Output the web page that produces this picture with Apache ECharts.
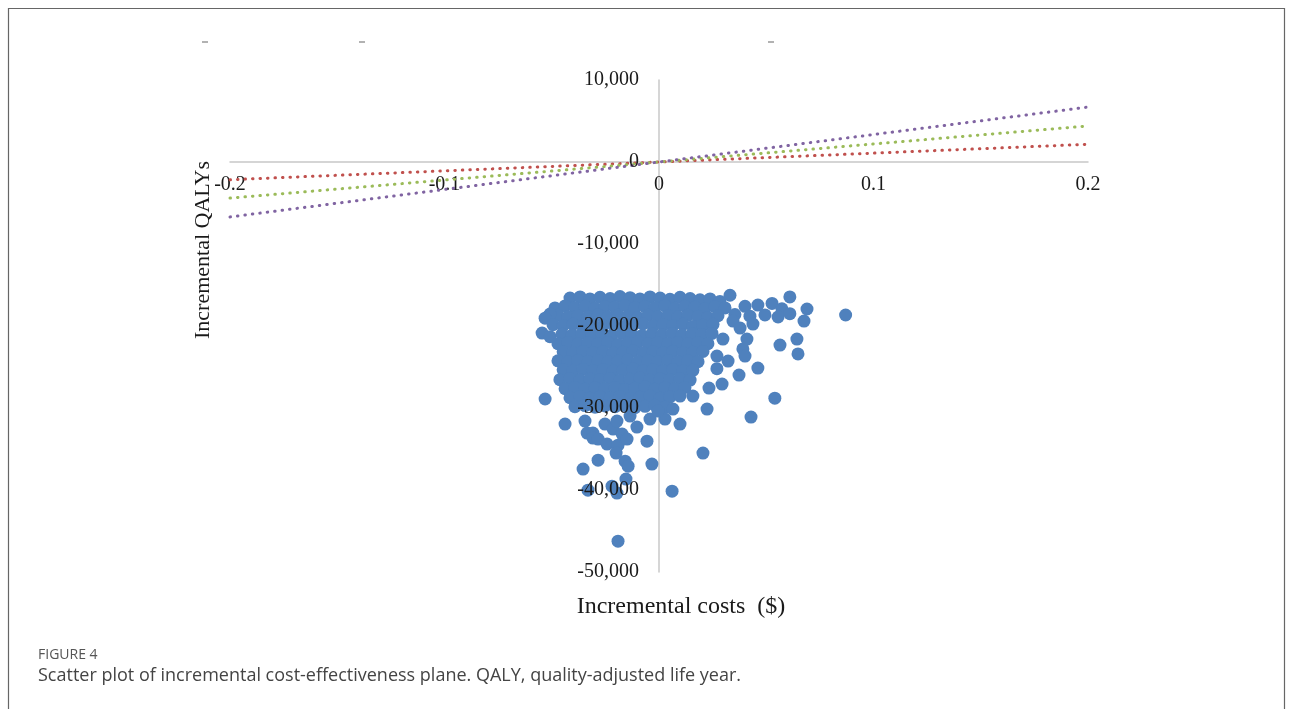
<!DOCTYPE html>
<html>
<head>
<meta charset="utf-8">
<script src="https://cdn.jsdelivr.net/npm/echarts@6/dist/echarts.min.js"></script>
<style>
  html, body { margin: 0; padding: 0; background: #fff; }
  #chart { width: 1290px; height: 709px; }
</style>
</head>
<body>
<div id="chart"></div>
<script>
// axis ranges
const costRange = [-0.2, 0.2];
const qalyRange = [-50000, 10000];

// willingness-to-pay reference lines (end points)
const wtpLow = [[-0.2, -2160], [0.2, 2160]];
const wtpMid = [[-0.2, -4400], [0.2, 4400]];
const wtpHigh = [[-0.2, -6700], [0.2, 6700]];

// simulated (incremental cost, incremental QALY) pairs, upper dense cloud
const cloudTop = [
  [-0.0415,-16600],[-0.0368,-16450],[-0.0322,-16700],[-0.0275,-16500],[-0.0228,-16650],[-0.0182,-16400],
  [-0.0135,-16550],[-0.0089,-16700],[-0.0042,-16450],[0.0005,-16600],[0.0051,-16750],[0.0098,-16500],
  [0.0145,-16650],[0.0191,-16800],[0.0238,-16700],[0.0284,-17000],[0.0331,-16250],[0.0610,-16450],
  [-0.0485,-17800],[-0.0438,-17550],[-0.0392,-17750],[-0.0345,-17600],[-0.0298,-17850],[-0.0252,-17650],
  [-0.0205,-17700],[-0.0159,-17500],[-0.0112,-17800],[-0.0065,-17650],[-0.0019,-17750],[0.0028,-17550],
  [0.0075,-17850],[0.0121,-17600],[0.0168,-17700],[0.0214,-17900],[0.0261,-17650],[0.0308,-17800],
  [0.0401,-17600],[0.0461,-17450],[0.0527,-17250],[0.0573,-17900],[0.0690,-17930],
  [-0.0517,-18850],[-0.0471,-18700],[-0.0424,-18900],[-0.0378,-18750],[-0.0331,-18850],[-0.0284,-18650],
  [-0.0238,-18900],[-0.0191,-18700],[-0.0145,-18800],[-0.0098,-18950],[-0.0051,-18700],[-0.0005,-18850],
  [0.0042,-18750],[0.0089,-18900],[0.0135,-18700],[0.0182,-18850],[0.0228,-18950],[0.0275,-18750],
  [0.0354,-18600],[0.0424,-18800],[0.0494,-18650],[0.0555,-18900],[0.0610,-18500],[0.0676,-19400],
  [-0.0508,-18540],[-0.0531,-19050],[0.0870,-18660],
  [-0.0494,-19850],[-0.0447,-19950],[-0.0401,-19800],[-0.0354,-20000],[-0.0308,-19850],[-0.0261,-19950],
  [-0.0214,-19800],[-0.0168,-20050],[-0.0121,-19900],[-0.0075,-19750],[-0.0028,-20000],[0.0019,-19850],
  [0.0065,-19950],[0.0112,-19800],[0.0158,-20050],[0.0205,-19900],[0.0252,-19800],[0.0345,-19400],
  [0.0438,-19760],[0.0378,-20250]
];

// middle of the cloud
const cloudMid = [
  [-0.0545,-20860],[-0.0508,-21300],[-0.0452,-21000],[-0.0405,-21100],[-0.0359,-20900],[-0.0312,-21050],
  [-0.0266,-20950],[-0.0219,-21100],[-0.0172,-20900],[-0.0126,-21000],[-0.0079,-21150],[-0.0033,-20950],
  [0.0014,-21050],[0.0061,-20900],[0.0107,-21100],[0.0154,-20950],[0.0200,-21050],[0.0247,-20900],
  [-0.0471,-22150],[-0.0424,-22000],[-0.0378,-22200],[-0.0331,-22050],[-0.0284,-22150],[-0.0238,-22000],
  [-0.0191,-22250],[-0.0145,-22100],[-0.0098,-21950],[-0.0051,-22200],[-0.0005,-22050],[0.0042,-22150],
  [0.0089,-22000],[0.0135,-22200],[0.0182,-22050],[0.0228,-22150],[0.0298,-21600],[0.0410,-21600],
  [0.0564,-22330],[0.0643,-21600],
  [-0.0447,-23150],[-0.0401,-23300],[-0.0354,-23100],[-0.0308,-23250],[-0.0261,-23150],[-0.0214,-23300],
  [-0.0168,-23200],[-0.0121,-23050],[-0.0075,-23300],[-0.0028,-23150],[0.0019,-23250],[0.0065,-23100],
  [0.0112,-23300],[0.0158,-23200],[0.0205,-23100],[0.0270,-23670],[0.0391,-22800],[0.0401,-23670],
  [0.0648,-23400],
  [-0.0471,-24250],[-0.0424,-24400],[-0.0378,-24200],[-0.0331,-24350],[-0.0284,-24250],[-0.0238,-24400],
  [-0.0191,-24300],[-0.0145,-24150],[-0.0098,-24400],[-0.0051,-24250],[-0.0005,-24350],[0.0042,-24200],
  [0.0089,-24400],[0.0135,-24250],[0.0182,-24350],[0.0322,-24280],
  [-0.0447,-25350],[-0.0401,-25500],[-0.0354,-25300],[-0.0308,-25450],[-0.0261,-25350],[-0.0214,-25500],
  [-0.0168,-25400],[-0.0121,-25250],[-0.0075,-25500],[-0.0028,-25350],[0.0019,-25450],[0.0065,-25300],
  [0.0112,-25500],[0.0158,-25400],[0.0461,-25130],[0.0373,-25990],[0.0270,-25200]
];

// lower part of the cloud
const cloudLow = [
  [-0.0462,-26550],[-0.0415,-26400],[-0.0368,-26600],[-0.0322,-26450],[-0.0275,-26550],[-0.0228,-26400],
  [-0.0182,-26650],[-0.0135,-26500],[-0.0089,-26350],[-0.0042,-26600],[0.0005,-26450],[0.0051,-26550],
  [0.0098,-26400],[0.0145,-26600],[0.0294,-27080],[0.0233,-27570],
  [-0.0438,-27650],[-0.0392,-27500],[-0.0345,-27700],[-0.0298,-27550],[-0.0252,-27650],[-0.0205,-27500],
  [-0.0159,-27750],[-0.0112,-27600],[-0.0065,-27450],[-0.0019,-27700],[0.0028,-27550],[0.0075,-27650],
  [0.0121,-27500],[0.0158,-28550],
  [-0.0415,-28750],[-0.0368,-28600],[-0.0322,-28800],[-0.0275,-28650],[-0.0228,-28750],[-0.0182,-28600],
  [-0.0135,-28850],[-0.0089,-28700],[-0.0042,-28550],[0.0005,-28800],[0.0051,-28650],[0.0098,-28550],
  [-0.0531,-28900],[0.0540,-28800],
  [-0.0392,-29850],[-0.0345,-29700],[-0.0298,-29900],[-0.0252,-29750],[-0.0205,-29850],[-0.0159,-29700],
  [-0.0112,-29950],[-0.0065,-29800],[-0.0019,-29650],[0.0028,-29900],[0.0224,-30130],[0.0065,-30130],
  [0.0429,-31110]
];

// scattered tail below the cloud
const tail = [
  [-0.0438,-31960],[-0.0345,-31600],[-0.0252,-31960],[-0.0214,-32570],[-0.0196,-31600],[-0.0135,-30990],
  [-0.0103,-32330],[-0.0042,-31350],[0.0028,-31350],[-0.0005,-30380],[0.0098,-31960],
  [-0.0335,-33060],[-0.0308,-33060],[-0.0308,-33670],[-0.0284,-33790],[-0.0242,-34400],[-0.0191,-34530],
  [-0.0172,-33180],[-0.0149,-33790],[-0.0056,-34040],[-0.0200,-35500],[-0.0158,-36480],[-0.0144,-37090],
  [-0.0033,-36840],[-0.0284,-36360],[-0.0354,-37450],[-0.0154,-38670],[-0.0219,-39530],[-0.0331,-40020],
  [-0.0196,-40380],[0.0205,-35500],[0.0061,-40140],[-0.0191,-46240]
];

const points = cloudTop.concat(cloudMid, cloudLow, tail);

const serif = "'Liberation Serif', 'Times New Roman', serif";
const chart = echarts.init(document.getElementById('chart'));

// grid box; both axes cross at zero, so they are shifted in by an offset
const G = { left: 230, right: 202, top: 80, bottom: 137 };
const gridW = 1290 - G.left - G.right;
const gridH = 709 - G.top - G.bottom;
const yZeroShift = -gridW * (0 - costRange[0]) / (costRange[1] - costRange[0]);
const xZeroShift = -gridH * (0 - qalyRange[0]) / (qalyRange[1] - qalyRange[0]);

function dotted(color, data) {
  return {
    type: 'line',
    data: data,
    showSymbol: false,
    silent: true,
    z: 3,
    lineStyle: { color: color, width: 3, type: [0.5, 7], cap: 'round' }
  };
}

chart.setOption({
  animation: false,
  backgroundColor: '#fff',
  grid: { left: G.left, right: G.right, top: G.top, bottom: G.bottom, containLabel: false },
  xAxis: {
    type: 'value', position: 'bottom', offset: xZeroShift,
    min: costRange[0], max: costRange[1], interval: 0.1,
    axisLine: { onZero: false, lineStyle: { color: '#c8c8c8', width: 1.5 } },
    axisTick: { show: false },
    splitLine: { show: false },
    axisLabel: {
      color: '#1a1a1a', fontFamily: serif, fontSize: 20, margin: 13,
      formatter: v => String(Math.round(v * 10) / 10)
    }
  },
  yAxis: [{
    type: 'value', position: 'left', offset: yZeroShift,
    min: qalyRange[0], max: qalyRange[1], interval: 10000,
    axisLine: { onZero: false, lineStyle: { color: '#c8c8c8', width: 1.5 } },
    axisTick: { show: false },
    splitLine: { show: false },
    axisLabel: { show: false }
  }, {
    // labels only, drawn above the markers like in the source figure
    type: 'value', position: 'left', offset: yZeroShift,
    min: qalyRange[0], max: qalyRange[1], interval: 10000,
    z: 10,
    axisLine: { show: false, onZero: false },
    axisTick: { show: false },
    splitLine: { show: false },
    axisLabel: { color: '#1a1a1a', fontFamily: serif, fontSize: 20, margin: 20 }
  }],
  series: [
    dotted('#c0504d', wtpLow),
    dotted('#9bbb59', wtpMid),
    dotted('#8064a2', wtpHigh),
    {
      type: 'scatter',
      data: points,
      symbolSize: 13,
      itemStyle: { color: '#4f81bd', opacity: 1 },
      silent: true
    }
  ],
  graphic: [
    // figure frame
    { type: 'line', shape: { x1: 8, y1: 8.5, x2: 1285, y2: 8.5 }, style: { stroke: '#666', lineWidth: 1.2 } },
    { type: 'line', shape: { x1: 8.5, y1: 8, x2: 8.5, y2: 709 }, style: { stroke: '#666', lineWidth: 1.2 } },
    { type: 'line', shape: { x1: 1284.5, y1: 8, x2: 1284.5, y2: 709 }, style: { stroke: '#666', lineWidth: 1.2 } },
    // stray marks at the top of the source image
    { type: 'line', shape: { x1: 202, y1: 42, x2: 208, y2: 42 }, style: { stroke: '#999', lineWidth: 1.5 } },
    { type: 'line', shape: { x1: 359, y1: 42, x2: 365, y2: 42 }, style: { stroke: '#999', lineWidth: 1.5 } },
    { type: 'line', shape: { x1: 768, y1: 42, x2: 774, y2: 42 }, style: { stroke: '#999', lineWidth: 1.5 } },
    // axis titles
    {
      type: 'text', x: 681, y: 607,
      style: { text: 'Incremental costs  ($)', font: '24px ' + serif, fill: '#1a1a1a', textAlign: 'center', textVerticalAlign: 'middle' }
    },
    {
      type: 'text', x: 203, y: 250, rotation: Math.PI / 2,
      style: { text: 'Incremental QALYs', font: '22px ' + serif, fill: '#1a1a1a', textAlign: 'center', textVerticalAlign: 'middle' }
    },
    // caption
    {
      type: 'text', x: 38, y: 655,
      style: { text: 'FIGURE 4', font: '14px "Open Sans", sans-serif', fill: '#555', textVerticalAlign: 'middle' }
    },
    {
      type: 'text', x: 38, y: 676,
      style: { text: 'Scatter plot of incremental cost-effectiveness plane. QALY, quality-adjusted life year.', font: '18px "Open Sans", sans-serif', fill: '#444', textVerticalAlign: 'middle' }
    }
  ]
});
</script>
</body>
</html>
